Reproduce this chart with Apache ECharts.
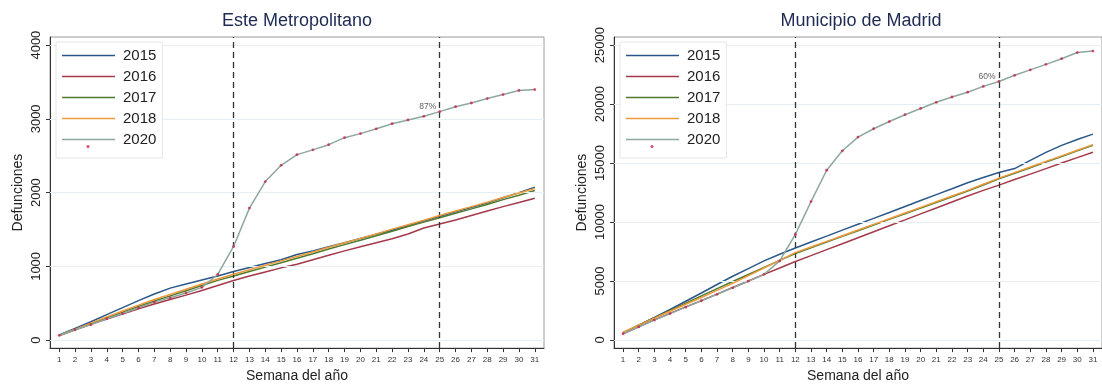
<!DOCTYPE html>
<html>
<head>
<meta charset="utf-8">
<script src="https://cdn.jsdelivr.net/npm/echarts@6/dist/echarts.min.js"></script>
<style>
html,body{margin:0;padding:0;background:#fff;}
#chart{width:1102px;height:388px;}
</style>
</head>
<body>
<div id="chart"></div>
<script>
// ---------- data ----------
const weeks = [1,2,3,4,5,6,7,8,9,10,11,12,13,14,15,16,17,18,19,20,21,22,23,24,25,26,27,28,29,30,31];
const years = ['2015','2016','2017','2018','2020'];
const markWeeks = [12, 25];

// Este Metropolitano (cumulative deaths)
const esteTicks = [0,1000,2000,3000,4000];
const este2015 = [70,160,250,345,440,535,625,705,760,815,870,930,985,1040,1090,1160,1210,1265,1320,1380,1435,1490,1555,1615,1680,1740,1800,1860,1930,2000,2075];
const este2016 = [60,140,215,285,355,425,490,550,610,672,740,808,870,925,980,1030,1090,1150,1210,1265,1320,1375,1440,1520,1575,1630,1690,1750,1810,1865,1925];
const este2017 = [65,140,220,300,380,455,530,600,670,740,810,870,930,990,1050,1110,1170,1235,1295,1355,1415,1475,1540,1600,1660,1720,1780,1840,1905,1965,2030];
const este2018 = [65,145,230,315,395,475,550,620,690,760,830,893,955,1015,1075,1135,1195,1260,1320,1380,1440,1505,1565,1625,1690,1750,1810,1870,1935,1995,2055];
const este2020 = [65,140,210,290,360,440,515,575,640,715,890,1270,1790,2150,2370,2515,2580,2650,2745,2800,2865,2935,2985,3035,3098,3165,3215,3275,3330,3385,3397];
const esteNote = '87%';

// Municipio de Madrid
const madTicks = [0,5000,10000,15000,20000,25000];
const mad2015 = [600,1250,1900,2580,3280,3980,4700,5400,6050,6700,7270,7800,8300,8800,9310,9810,10310,10810,11320,11820,12320,12820,13330,13780,14200,14530,15220,15900,16500,17000,17450];
const mad2016 = [520,1100,1700,2250,2800,3330,3880,4450,5000,5560,6100,6650,7150,7660,8160,8670,9170,9680,10180,10690,11190,11690,12200,12680,13130,13600,14060,14530,15000,15460,15920];
const mad2017 = [600,1250,1880,2500,3120,3740,4350,4950,5550,6150,6750,7330,7820,8300,8780,9260,9740,10220,10700,11180,11660,12140,12620,13140,13660,14130,14600,15080,15550,16030,16510];
const mad2018 = [650,1250,1850,2430,3020,3600,4200,4800,5450,6100,6750,7400,7880,8360,8840,9320,9800,10280,10760,11240,11720,12200,12680,13200,13720,14190,14660,15140,15610,16090,16565];
const mad2020 = [520,1100,1680,2230,2780,3320,3870,4420,4980,5560,6700,8950,11730,14390,16040,17200,17910,18520,19100,19630,20150,20600,21010,21500,21920,22440,22900,23370,23850,24370,24500];
const madNote = '60%';

// ---------- styling ----------
const FONT = "'Liberation Sans', Arial, Helvetica, sans-serif";
const colors = {'2015':'#2a5788','2016':'#a3394a','2017':'#4f7a2e','2018':'#ec9a3c','2020':'#8ea79f'};
const dotColor = '#cc2244';
const LINE_ICON = 'path://M0,0L53,0L53,1.6L0,1.6Z';

const panels = [
  {title:'Este Metropolitano', left:50, yMin:-108, yMax:4110, ticks:esteTicks, nameGap:24.5,
   data:{'2015':este2015,'2016':este2016,'2017':este2017,'2018':este2018,'2020':este2020}, note:esteNote},
  {title:'Municipio de Madrid', left:614, yMin:-695, yMax:25690, ticks:madTicks, nameGap:25,
   data:{'2015':mad2015,'2016':mad2016,'2017':mad2017,'2018':mad2018,'2020':mad2020}, note:madNote}
];

const GW = 494, GTOP = 37, GH = 319;
const grid=[], xAxis=[], yAxis=[], series=[], title=[], legend=[];

panels.forEach((p, i) => {
  grid.push({left:p.left, top:GTOP, width:GW, height:GH, show:true, borderColor:'#9a9a9a', borderWidth:1, containLabel:false});
  title.push({text:p.title, left:p.left + GW/2, top:12, textAlign:'center', padding:0,
    textStyle:{fontFamily:FONT, fontSize:18, fontWeight:'normal', color:'#1d2b52'}});
  xAxis.push({type:'value', gridIndex:i, min:0.42, max:31.58,
    name:'Semana del año', nameLocation:'middle', nameGap:19,
    nameTextStyle:{fontFamily:FONT, fontSize:14, color:'#222'},
    axisLine:{show:true, onZero:false, lineStyle:{color:'#333', width:1}},
    axisTick:{show:true, length:4, customValues:weeks, lineStyle:{color:'#333'}},
    axisLabel:{customValues:weeks, formatter:v => String(v), fontFamily:FONT, fontSize:8, color:'#333', margin:8},
    splitLine:{show:false}});
  yAxis.push({type:'value', gridIndex:i, min:p.yMin, max:p.yMax,
    name:'Defunciones', nameLocation:'middle', nameGap:p.nameGap,
    nameTextStyle:{fontFamily:FONT, fontSize:14, color:'#222'},
    axisLine:{show:true, onZero:false, lineStyle:{color:'#333', width:1}},
    axisTick:{show:true, length:4, customValues:p.ticks, lineStyle:{color:'#333'}},
    axisLabel:{customValues:p.ticks, formatter:v => String(v), rotate:90, fontFamily:FONT, fontSize:13, color:'#222', margin:7},
    splitLine:{show:false}});

  years.forEach((y, k) => {
    const arr = p.data[y];
    const s = {name:y, type:'line', xAxisIndex:i, yAxisIndex:i, symbol:'none', z:2+k,
      data:weeks.map((w, j) => [w, arr[j]]),
      lineStyle:{width:1.5, color:colors[y]}, itemStyle:{color:colors[y]}, silent:true};
    if (k === 0) {
      s.markLine = {silent:true, symbol:'none', label:{show:false}, animation:false,
        lineStyle:{color:'#e6eff1', width:1, type:'solid'},
        data:p.ticks.map(t => ({yAxis:t}))};
      s.z = 1;
    }
    series.push(s);
  });
  // 2020 markers
  const a20 = p.data['2020'];
  series.push({name:' ', type:'scatter', xAxisIndex:i, yAxisIndex:i, symbol:'circle', symbolSize:2.8, z:10,
    itemStyle:{color:dotColor}, silent:true,
    data:weeks.map((w, j) => {
      const d = {value:[w, a20[j]]};
      if (w === 25) d.label = {show:true, formatter:p.note, position:'left', distance:2, offset:[0,-5],
        fontFamily:FONT, fontSize:8.5, color:'#333'};
      return d;
    }),
    markLine:{silent:true, symbol:'none', label:{show:false}, animation:false,
      lineStyle:{color:'#333', width:1.3, type:[6,4]},
      data:markWeeks.map(w => ({xAxis:w}))}
  });

  legend.push({orient:'vertical', left:p.left + 6, top:42, padding:[6,6,11,6], itemGap:6,
    itemWidth:53, itemHeight:14, data:years.map(y => ({name:y, icon:LINE_ICON})),
    backgroundColor:'#fff', borderColor:'#e6e6e6', borderWidth:1,
    selectedMode:false, textStyle:{fontFamily:FONT, fontSize:15, color:'#222', padding:[0,0,0,3]}, z:20});
  legend.push({orient:'vertical', left:p.left + 36.5, top:145, padding:0, itemWidth:3, itemHeight:3,
    data:[{name:' ', icon:'circle'}], selectedMode:false,
    textStyle:{fontSize:1, color:'rgba(0,0,0,0)'}, z:21});
});

const chart = echarts.init(document.getElementById('chart'), null, {renderer:'canvas'});
chart.setOption({animation:false, backgroundColor:'#fff', title, grid, xAxis, yAxis, legend, series});
</script>
</body>
</html>
